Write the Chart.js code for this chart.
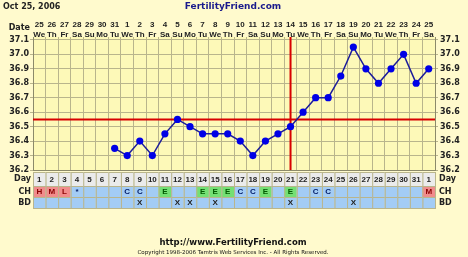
<!DOCTYPE html>
<html>
<head>
<meta charset="utf-8">
<script src="https://cdn.jsdelivr.net/npm/chart.js@4/dist/chart.umd.min.js"></script>
<style>
  html, body { margin: 0; padding: 0; background: #fffacd; }
  canvas { display: block; }
</style>
</head>
<body>
<canvas id="bbtChart" width="468" height="257"></canvas>
<script>
// chart data
const chartDate = 'Oct 25, 2006';
const dates = ['25','26','27','28','29','30','31','1','2','3','4','5','6','7','8','9',
               '10','11','12','13','14','15','16','17','18','19','20','21','22','23','24','25'];
const weekdays = ['We','Th','Fr','Sa','Su','Mo','Tu','We','Th','Fr','Sa','Su','Mo','Tu','We','Th',
                  'Fr','Sa','Su','Mo','Tu','We','Th','Fr','Sa','Su','Mo','Tu','We','Th','Fr','Sa'];
const cycleDays = ['1','2','3','4','5','6','7','8','9','10','11','12','13','14','15','16',
                   '17','18','19','20','21','22','23','24','25','26','27','28','29','30','31','1'];
const temps = [null, null, null, null, null, null, 36.35, 36.3, 36.4, 36.3, 36.45, 36.55,
               36.5, 36.45, 36.45, 36.45, 36.4, 36.3, 36.4, 36.45, 36.5, 36.6, 36.7, 36.7,
               36.85, 37.05, 36.9, 36.8, 36.9, 37.0, 36.8, 36.9];
const cervicalFluid = ['H','M','L','*','','','','C','C','','E','','','E','E','E',
                       'C','C','E','','E','','C','C','','','','','','','','M'];
const intercourse = ['','','','','','','','','X','','','X','X','','X','',
                     '','','','','X','','','','','X','','','','','',''];
const tempTicks = [36.2, 36.3, 36.4, 36.5, 36.6, 36.7, 36.8, 36.9, 37.0, 37.1];
const coverline = 36.55;
const ovulationDay = 21;

const FONT = '"DejaVu Sans", sans-serif';
const NARROW = '"Liberation Sans", Arial, sans-serif';
const gridColor = '#b9b58c';

const cfColors = {
  H: ['#f08c8c', '#8a0000'], M: ['#f08c8c', '#8a0000'], L: ['#f08c8c', '#8a0000'],
  E: ['#74e074', '#005a00'], C: ['#a3ccf5', '#001a66'], '*': ['#a3ccf5', '#001a66'], '': ['#a3ccf5', '#000']
};

// page background, plot area fill, cover line and ovulation line
const backdrop = {
  id: 'backdrop',
  beforeDraw(chart) {
    const { ctx, chartArea: a } = chart;
    ctx.save();
    ctx.fillStyle = '#fffacd';
    ctx.fillRect(0, 0, chart.width, chart.height);
    ctx.fillStyle = '#fdf9b8';
    ctx.fillRect(a.left, a.top, a.right - a.left, a.bottom - a.top);
    ctx.restore();
  },
  beforeDatasetsDraw(chart) {
    const { ctx, chartArea: a, scales } = chart;
    ctx.save();
    ctx.strokeStyle = '#d80000';
    ctx.lineWidth = 2;
    const y = scales.y.getPixelForValue(coverline);
    ctx.beginPath();
    ctx.moveTo(a.left, y);
    ctx.lineTo(a.right, y);
    const x = scales.x.getPixelForValue(ovulationDay - 1);
    ctx.moveTo(x, a.top);
    ctx.lineTo(x, a.bottom);
    ctx.stroke();
    ctx.restore();
  }
};

// header texts, bottom day / CH / BD table and footer
const extras = {
  id: 'extras',
  afterDraw(chart) {
    const { ctx, chartArea: a, scales } = chart;
    const xs = scales.x;
    const w = xs.getPixelForValue(1) - xs.getPixelForValue(0);
    ctx.save();
    ctx.textBaseline = 'middle';

    ctx.fillStyle = '#222';
    ctx.font = 'bold 8px ' + FONT;
    ctx.textAlign = 'left';
    ctx.fillText(chartDate, 3, 7);
    ctx.fillStyle = '#1a1a8c';
    ctx.font = 'bold 9px ' + FONT;
    ctx.textAlign = 'center';
    ctx.fillText('FertilityFriend.com', 233, 7);

    ctx.fillStyle = '#222';
    ctx.font = 'bold 8px ' + FONT;
    ctx.textAlign = 'right';
    ctx.fillText('Date', 30, 28);

    const rows = [
      { name: 'Day', top: 172, h: 14 },
      { name: 'CH', top: 186, h: 11 },
      { name: 'BD', top: 197, h: 11 }
    ];
    rows.forEach(r => {
      const cy = r.top + r.h / 2;
      ctx.fillStyle = '#222';
      ctx.font = 'bold 8px ' + FONT;
      ctx.textAlign = 'right';
      ctx.fillText(r.name, a.left - 2, cy);
      ctx.textAlign = 'left';
      ctx.fillText(r.name, a.right + 4, cy);
      ctx.font = 'bold 8px ' + NARROW;
      for (let i = 0; i < cycleDays.length; i++) {
        const left = xs.getPixelForValue(i) - w / 2;
        let bg = '#a3ccf5', fg = '#001a66', txt = '';
        if (r.name === 'Day') { bg = '#ebebeb'; fg = '#222'; txt = cycleDays[i]; }
        if (r.name === 'CH') { [bg, fg] = cfColors[cervicalFluid[i]]; txt = cervicalFluid[i]; }
        if (r.name === 'BD') { txt = intercourse[i]; fg = '#222'; }
        ctx.fillStyle = bg;
        ctx.fillRect(left, r.top, w, r.h);
        ctx.strokeStyle = gridColor;
        ctx.lineWidth = 1;
        ctx.strokeRect(left + 0.5, r.top + 0.5, w, r.h);
        if (txt) {
          ctx.fillStyle = fg;
          ctx.textAlign = 'center';
          ctx.fillText(txt, xs.getPixelForValue(i), r.top + r.h / 2 + 0.5);
        }
      }
    });

    ctx.fillStyle = '#111';
    ctx.textAlign = 'center';
    ctx.font = 'bold 8.5px ' + FONT;
    ctx.fillText('http://www.FertilityFriend.com', 233, 243);
    ctx.font = '5.5px ' + FONT;
    ctx.fillText('Copyright 1998-2006 Tamtris Web Services Inc. - All Rights Reserved.', 233, 253);
    ctx.restore();
  }
};

const tickFont = { family: FONT, size: 8, weight: 'bold' };

new Chart(document.getElementById('bbtChart'), {
  type: 'line',
  data: {
    labels: cycleDays,
    datasets: [{
      label: 'Temperature',
      data: temps,
      borderColor: '#1c1c9a',
      borderWidth: 1.5,
      backgroundColor: '#0000e6',
      pointBackgroundColor: '#0000e6',
      pointBorderWidth: 0,
      pointRadius: 3.6,
      tension: 0,
      spanGaps: true,
      yAxisID: 'y',
      xAxisID: 'x'
    }]
  },
  options: {
    responsive: false,
    devicePixelRatio: 1,
    animation: false,
    layout: { padding: 0 },
    plugins: { legend: { display: false }, tooltip: { enabled: false } },
    scales: {
      x: {
        type: 'category',
        position: 'bottom',
        offset: true,
        grid: { offset: true, color: gridColor, drawTicks: false },
        border: { color: '#8c8a6a' },
        ticks: { display: false },
        afterFit(scale) { scale.height = 87; }
      },
      xTop: {
        type: 'category',
        position: 'top',
        labels: dates.map((d, i) => [d, weekdays[i]]),
        offset: true,
        grid: { display: false, drawTicks: false },
        border: { display: false },
        ticks: {
          color: '#222', font: { family: NARROW, size: 8, weight: 'bold', lineHeight: 1.15 },
          autoSkip: false, maxRotation: 0, padding: -2
        },
        afterFit(scale) { scale.height = 37; }
      },
      y: {
        position: 'left',
        min: 36.2,
        max: 37.12,
        afterBuildTicks(scale) { scale.ticks = tempTicks.map(v => ({ value: v })); },
        grid: { color: gridColor, tickLength: 3 },
        border: { color: '#8c8a6a' },
        ticks: { color: '#222', font: tickFont, padding: 1, callback: v => v.toFixed(1) },
        afterFit(scale) { scale.width = 33; }
      },
      y2: {
        position: 'right',
        min: 36.2,
        max: 37.12,
        afterBuildTicks(scale) { scale.ticks = tempTicks.map(v => ({ value: v })); },
        grid: { drawOnChartArea: false, color: gridColor, tickLength: 3 },
        border: { color: '#8c8a6a' },
        ticks: { color: '#222', font: tickFont, padding: 2, callback: v => v.toFixed(1) },
        afterFit(scale) { scale.width = 33; }
      }
    }
  },
  plugins: [backdrop, extras]
});
</script>
</body>
</html>
